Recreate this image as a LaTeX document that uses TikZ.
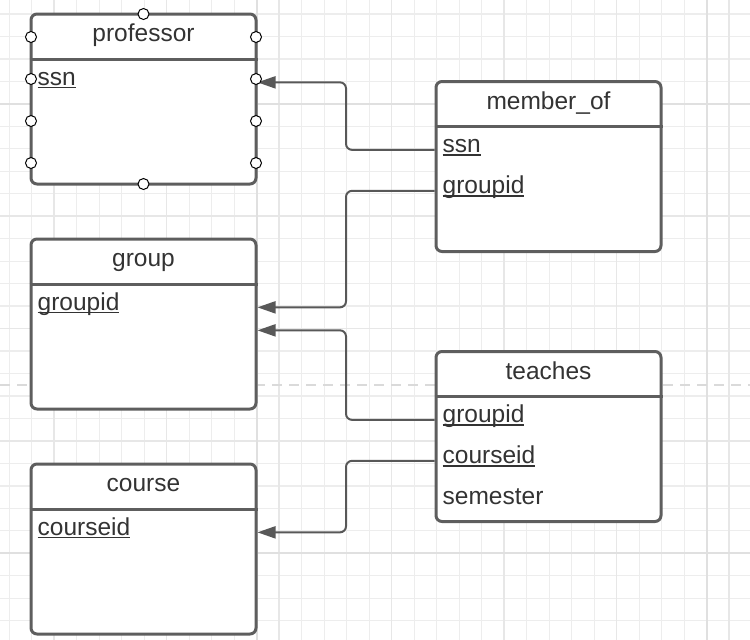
\documentclass[tikz,border=0pt]{standalone}
\usepackage{fontspec}
\setmainfont{Liberation Sans}
\usetikzlibrary{arrows.meta,positioning,calc}
\definecolor{boxgray}{RGB}{94,94,94}
\definecolor{linegray}{RGB}{88,88,88}
\definecolor{textgray}{RGB}{51,51,51}
\definecolor{gridminor}{RGB}{237,237,237}
\definecolor{gridmid}{RGB}{231,231,231}
\definecolor{gridmajor}{RGB}{224,224,224}
\definecolor{pagebreak}{RGB}{218,218,218}
\newcommand{\keyattr}[1]{\setbox0\hbox{#1}\rlap{\rule[-3pt]{\wd0}{1.4pt}}\box0}

\begin{document}
\begin{tikzpicture}[x=1pt, y=-1pt,
    entity/.style={rectangle, draw=boxgray, line width=3pt, rounded corners=6pt, fill=white,
        minimum width=225pt, minimum height=170pt, inner sep=0pt},
    title/.style={anchor=base, inner sep=0pt, text=textgray, font=\fontsize{24.5}{29}\selectfont},
    attr/.style={anchor=base west, inner sep=0pt, text=textgray, font=\fontsize{24.5}{29}\selectfont},
    fk/.style={-{Triangle[length=18pt,width=12pt]}, draw=linegray, line width=2pt, rounded corners=6pt},
    handle/.style={circle, draw=black, fill=white, line width=1pt, minimum size=11pt, inner sep=0pt}
]
\useasboundingbox (0,0) rectangle (750,640);

% Canvas grid
\begin{scope}
\clip (0,0) rectangle (750,640);
\foreach \i in {0,...,33} {\draw[gridminor, line width=1.3pt] ({9.2+22.5*\i},0) -- ({9.2+22.5*\i},640);}
\foreach \i in {0,...,28} {\draw[gridminor, line width=1.3pt] (0,{14+22.47*\i}) -- (750,{14+22.47*\i});}
\foreach \i in {2,7,...,32} {\draw[gridmid, line width=1.5pt] ({9.2+22.5*\i},0) -- ({9.2+22.5*\i},640);}
\foreach \i in {9,14,19} {\draw[gridmid, line width=1.5pt] (0,{14+22.47*\i}) -- (750,{14+22.47*\i});}
\foreach \i in {11,31} {\draw[gridmajor, line width=1.6pt] ({9.2+22.5*\i},0) -- ({9.2+22.5*\i},640);}
\foreach \i in {4,24} {\draw[gridmajor, line width=1.6pt] (0,{14+22.47*\i}) -- (750,{14+22.47*\i});}
\draw[pagebreak, line width=2pt, dash pattern=on 10pt off 7pt] (0,385) -- (750,385);
\end{scope}

% Tables
\node[entity] (prof) at (143.5,99) {};
\node[entity] (mem) at (548.5,166.5) {};
\node[entity] (grp) at (143.5,324) {};
\node[entity] (tch) at (548.5,436.5) {};
\node[entity] (crs) at (143.5,549) {};

\foreach \t/\name in {prof/professor, mem/member\_of, grp/group, tch/teaches, crs/course} {
    \node[title] (\t-title) at ([yshift=-29pt]\t.north) {\name};
    \draw[boxgray, line width=3pt] ([yshift=-46.5pt]\t.north west) -- ([yshift=-46.5pt]\t.north east);
}

% Columns
\node[attr] (prof-ssn) at ([xshift=8pt, yshift=-72.5pt]prof.north west) {\keyattr{ssn}};
\node[attr] (mem-ssn) at ([xshift=8pt, yshift=-72.5pt]mem.north west) {\keyattr{ssn}};
\node[attr] (mem-gid) at ([xshift=8pt, yshift=-113.5pt]mem.north west) {\keyattr{groupid}};
\node[attr] (grp-gid) at ([xshift=8pt, yshift=-72.5pt]grp.north west) {\keyattr{groupid}};
\node[attr] (tch-gid) at ([xshift=8pt, yshift=-72.5pt]tch.north west) {\keyattr{groupid}};
\node[attr] (tch-cid) at ([xshift=8pt, yshift=-113.5pt]tch.north west) {\keyattr{courseid}};
\node[attr] (tch-sem) at ([xshift=8pt, yshift=-154.5pt]tch.north west) {semester};
\node[attr] (crs-cid) at ([xshift=8pt, yshift=-72.5pt]crs.north west) {\keyattr{courseid}};

% Foreign keys
\coordinate (midx) at ($(prof.east)!0.5!(mem.west)$);
\coordinate (grp-in) at ($(grp.east |- grp-gid.mid)+(0,23)$);
\draw[fk] (mem.west |- mem-ssn.mid) -| (midx |- prof-ssn.mid) -- (prof.east |- prof-ssn.mid);
\draw[fk] (mem.west |- mem-gid.mid) -| (midx |- grp-gid.mid) -- (grp.east |- grp-gid.mid);
\draw[fk] (tch.west |- tch-gid.mid) -| (midx |- grp-in) -- (grp-in);
\draw[fk] (tch.west |- tch-cid.mid) -| (midx |- crs-cid.mid) -- (crs.east |- crs-cid.mid);

% Selection handles
\foreach \y in {37,79,121,163} {
    \node[handle] (hl\y) at (31,\y) {};
    \node[handle] (hr\y) at (256,\y) {};
}
\node[handle] (ht) at (143.5,14) {};
\node[handle] (hb) at (143.5,184) {};

\end{tikzpicture}
\end{document}
